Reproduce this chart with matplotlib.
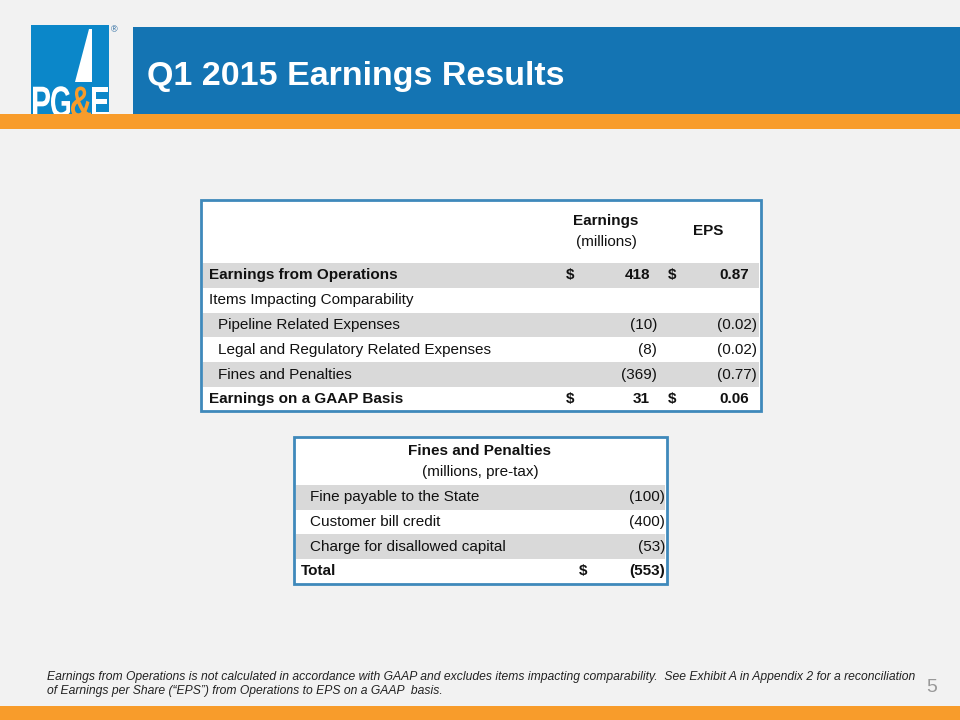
import matplotlib
matplotlib.use("Agg")
import matplotlib.pyplot as plt
from matplotlib.patches import Rectangle, Polygon, PathPatch
from matplotlib.textpath import TextPath
from matplotlib.font_manager import FontProperties
from matplotlib.transforms import Affine2D

plt.rcParams['font.family'] = ['Liberation Sans', 'DejaVu Sans']

title = "Q1 2015 Earnings Results"

# main table
row_labels = ["Earnings from Operations", "Items Impacting Comparability",
              "Pipeline Related Expenses", "Legal and Regulatory Related Expenses",
              "Fines and Penalties", "Earnings on a GAAP Basis"]
row_kind = ["total", "section", "item", "item", "item", "total"]
earnings = [418, None, -10, -8, -369, 31]
eps = [0.87, None, -0.02, -0.02, -0.77, 0.06]

# fines table
fine_labels = ["Fine payable to the State", "Customer bill credit",
               "Charge for disallowed capital", "Total"]
fine_values = [-100, -400, -53, -553]

footnote = ("Earnings from Operations is not calculated in accordance with GAAP and excludes items impacting comparability.  "
            "See Exhibit A in Appendix 2 for a reconciliation\n"
            "of Earnings per Share (\u201cEPS\u201d) from Operations to EPS on a GAAP  basis.")
page_no = "5"

BG = "#f2f2f2"
BLUE = "#1474b3"
LOGO_BLUE = "#0b87c9"
ORANGE = "#f89c2b"
BORDER = "#3f89bb"
SHADE = "#d9d9d9"
TXT = "#111111"
FS = 11

fig = plt.figure(figsize=(9.6, 7.2), dpi=100, facecolor=BG)
ax = fig.add_axes([0, 0, 1, 1])
ax.set_xlim(0, 960)
ax.set_ylim(720, 0)
ax.axis("off")
ax.set_facecolor(BG)

# header
ax.add_patch(Rectangle((133, 27), 827, 88, color=BLUE, lw=0))
ax.add_patch(Rectangle((0, 114), 960, 15, color=ORANGE, lw=0))
ax.add_patch(Rectangle((0, 706), 960, 14, color=ORANGE, lw=0))
ax.text(147, 76, title, color="white", fontsize=24.5, fontweight="bold", va="center", ha="left")

# logo
ax.add_patch(Rectangle((31, 25), 78, 89, color=LOGO_BLUE, lw=0))
ax.add_patch(Polygon([(89, 29), (92, 29), (92, 82), (75, 82)], closed=True, color="white", lw=0))
fp = FontProperties(family="Liberation Sans", weight="bold")
x0 = 33
for ch, col, w in [("P", "white", 17), ("G", "white", 19), ("&", ORANGE, 20), ("E", "white", 17)]:
    tp = TextPath((0, 0), ch, size=44, prop=fp)
    ext = tp.get_extents()
    sx = w / ext.width
    tr = Affine2D().translate(-ext.x0, 0).scale(sx, -1.0).translate(x0, 117)
    ax.add_patch(PathPatch(tr.transform_path(tp), color=col, lw=0, zorder=3))
    x0 += w + 1
ax.add_patch(Rectangle((0, 114), 130, 15, color=ORANGE, lw=0, zorder=4))
ax.text(114, 30, "\u00ae", color="#1a5f9a", fontsize=6.5, ha="center", va="center")

# main table
tx0, ty0, tx1, ty1 = 201, 200, 761, 411
ax.add_patch(Rectangle((tx0, ty0), tx1 - tx0, ty1 - ty0, facecolor="white", edgecolor=BORDER, lw=2, zorder=1))
ax.text(606, 221, "Earnings", fontsize=FS, fontweight="bold", ha="center", va="center", color=TXT, zorder=3)
ax.text(606, 242, "(millions)", fontsize=FS, ha="center", va="center", color=TXT, zorder=3)
ax.text(708, 231, "EPS", fontsize=FS, fontweight="bold", ha="center", va="center", color=TXT, zorder=3)

row_h = 24.8
y = 263
for i, lab in enumerate(row_labels):
    if i % 2 == 0:
        ax.add_patch(Rectangle((tx0 + 2, y), tx1 - tx0 - 4, row_h, color=SHADE, lw=0, zorder=2))
    yc = y + row_h / 2
    kind = row_kind[i]
    wt = "bold" if kind == "total" else "normal"
    lx = 218 if kind == "item" else 209
    ax.text(lx, yc, lab, fontsize=FS, fontweight=wt, va="center", ha="left", color=TXT, zorder=3)
    if earnings[i] is not None:
        if earnings[i] < 0:
            ax.text(657, yc, f"({abs(earnings[i])})", fontsize=FS, va="center", ha="right", color=TXT, zorder=3)
            ax.text(757, yc, f"({abs(eps[i]):.2f})", fontsize=FS, va="center", ha="right", color=TXT, zorder=3)
        else:
            ax.text(570, yc, "$", fontsize=FS, fontweight=wt, va="center", ha="center", color=TXT, zorder=3)
            ax.text(650, yc, f"{earnings[i]}", fontsize=FS, fontweight=wt, va="center", ha="right", color=TXT, zorder=3)
            ax.text(672, yc, "$", fontsize=FS, fontweight=wt, va="center", ha="center", color=TXT, zorder=3)
            ax.text(749, yc, f"{eps[i]:.2f}", fontsize=FS, fontweight=wt, va="center", ha="right", color=TXT, zorder=3)
    y += row_h

# fines table
fx0, fy0, fx1, fy1 = 294, 437, 667, 584
ax.add_patch(Rectangle((fx0, fy0), fx1 - fx0, fy1 - fy0, facecolor="white", edgecolor=BORDER, lw=2, zorder=1))
ax.text(480, 451, "Fines and Penalties", fontsize=FS, fontweight="bold", ha="center", va="center", color=TXT, zorder=3)
ax.text(480, 472, "(millions, pre-tax)", fontsize=FS, ha="center", va="center", color=TXT, zorder=3)
y = 485
n = len(fine_labels)
for i, lab in enumerate(fine_labels):
    last = i == n - 1
    if i % 2 == 0:
        ax.add_patch(Rectangle((fx0 + 2, y), fx1 - fx0 - 4, 24.6, color=SHADE, lw=0, zorder=2))
    yc = y + 12.3
    wt = "bold" if last else "normal"
    ax.text(301 if last else 310, yc, lab, fontsize=FS, fontweight=wt, va="center", ha="left", color=TXT, zorder=3)
    if last:
        ax.text(583, yc, "$", fontsize=FS, fontweight=wt, va="center", ha="center", color=TXT, zorder=3)
    ax.text(665, yc, f"({abs(fine_values[i])})", fontsize=FS, fontweight=wt, va="center", ha="right", color=TXT, zorder=3)
    y += 24.6

# footnote
ax.text(47, 684, footnote, fontsize=8.7, style="italic", va="center", ha="left", color="#222222", linespacing=1.15)
ax.text(932, 687, page_no, fontsize=14, color="#999999", ha="center", va="center")

fig.savefig("out.png", dpi=100, facecolor=BG)
